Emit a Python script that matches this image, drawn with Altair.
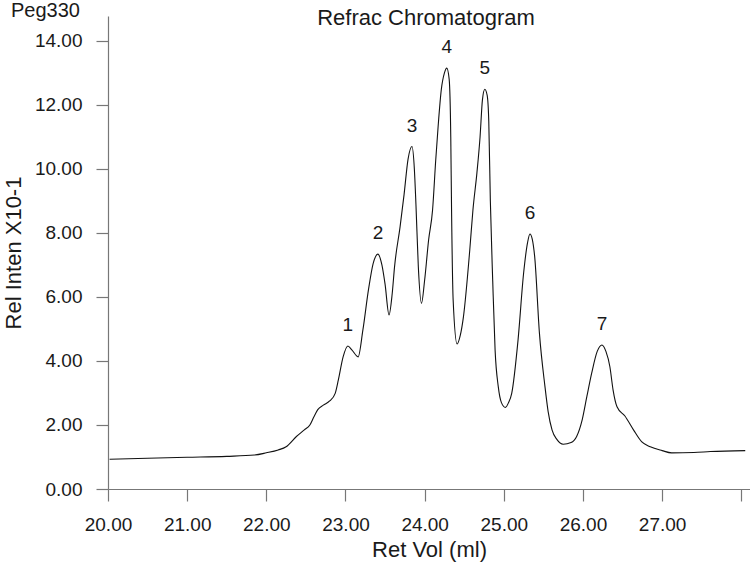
import altair as alt
import pandas as pd

# Refractive-index trace: retention volume (ml) and relative intensity (x10^-1)
ret_vol = [20.02, 20.5, 21.0, 21.5, 21.85, 22.0, 22.15, 22.25, 22.38, 22.48,
           22.55, 22.60, 22.65, 22.72, 22.80, 22.87, 22.91, 22.97, 23.03, 23.08,
           23.16, 23.22, 23.29, 23.35, 23.41, 23.46, 23.50, 23.55, 23.59, 23.62,
           23.69, 23.74, 23.79, 23.84, 23.87, 23.89, 23.92, 23.96, 24.00, 24.05,
           24.10, 24.14, 24.17, 24.21, 24.25, 24.28, 24.31, 24.33, 24.34, 24.36,
           24.41, 24.45, 24.49, 24.57, 24.61, 24.66, 24.70, 24.73, 24.76, 24.79,
           24.81, 24.83, 24.86, 24.89, 24.93, 24.97, 25.02, 25.06, 25.10, 25.18,
           25.25, 25.30, 25.33, 25.36, 25.39, 25.45, 25.52, 25.56, 25.61, 25.67,
           25.75, 25.85, 25.92, 25.99, 26.05, 26.11, 26.18, 26.24, 26.29, 26.34,
           26.38, 26.43, 26.53, 26.64, 26.74, 26.85, 27.00, 27.12, 27.40, 27.61,
           28.05]
rel_inten = [0.93, 0.96, 0.99, 1.02, 1.06, 1.13, 1.22, 1.32, 1.64, 1.85,
             2.00, 2.25, 2.48, 2.62, 2.75, 2.99, 3.41, 4.13, 4.47, 4.35,
             4.13, 4.97, 6.22, 7.05, 7.34, 7.00, 6.40, 5.44, 6.10, 6.95,
             8.20, 9.20, 10.30, 10.70, 10.00, 8.90, 6.95, 5.80, 6.53, 7.78,
             8.72, 10.28, 11.32, 12.47, 13.00, 13.15, 12.80, 11.00, 8.72, 5.91,
             4.53, 4.80, 5.38, 7.47, 8.72, 9.87, 11.00, 12.16, 12.49, 12.30,
             11.50, 9.00, 6.50, 4.34, 3.20, 2.70, 2.55, 2.70, 2.99, 4.66,
             6.74, 7.70, 7.97, 7.80, 7.26, 4.87, 3.20, 2.42, 1.84, 1.55,
             1.40, 1.45, 1.64, 2.16, 2.90, 3.62, 4.30, 4.50, 4.30, 3.82,
             3.10, 2.57, 2.28, 1.84, 1.48, 1.32, 1.20, 1.13, 1.14, 1.17,
             1.20]

# Peak numbers and the index of each peak apex in the trace
peak_names = ["1", "2", "3", "4", "5", "6", "7"]
peak_index = [18, 24, 33, 45, 58, 72, 87]

x_ticks = [20, 21, 22, 23, 24, 25, 26, 27, 28]
y_ticks = [0, 2, 4, 6, 8, 10, 12, 14]

FONT = "Liberation Sans"

trace = pd.DataFrame({"vol": ret_vol, "inten": rel_inten})
peaks = pd.DataFrame({
    "name": peak_names,
    "vol": [ret_vol[i] for i in peak_index],
    "inten": [rel_inten[i] for i in peak_index],
})

x_scale = alt.Scale(domain=[20, 28.11], nice=False, zero=False)
y_scale = alt.Scale(domain=[0, 14.78], nice=False)

axis_common = dict(
    domainColor="#777777", domainWidth=1.2,
    tickColor="#777777", tickWidth=1.2, tickSize=12,
    labelFont=FONT, labelFontSize=19, labelColor="#1a1a1a",
    titleFont=FONT, titleFontSize=22, titleFontWeight="normal", titleColor="#1a1a1a",
    grid=False,
)

line = alt.Chart(trace).mark_line(
    color="#111111", strokeWidth=1.1, interpolate="monotone"
).encode(
    x=alt.X("vol:Q", scale=x_scale,
            axis=alt.Axis(title="Ret Vol (ml)", values=x_ticks,
                          labelExpr="datum.value >= 28 ? '' : format(datum.value, '.2f')",
                          labelPadding=14, titlePadding=5, labelFlush=False,
                          **axis_common)),
    y=alt.Y("inten:Q", scale=y_scale,
            axis=alt.Axis(title="Rel Inten X10-1", values=y_ticks, format=".2f",
                          labelPadding=14, titlePadding=9,
                          **axis_common)),
)

labels = alt.Chart(peaks).mark_text(
    font=FONT, fontSize=19, color="#1a1a1a", dy=-21, baseline="middle"
).encode(x="vol:Q", y="inten:Q", text="name:N")

heading = alt.Chart(pd.DataFrame({"t": ["Refrac Chromatogram"]})).mark_text(
    font=FONT, fontSize=22, color="#1a1a1a", baseline="middle", align="center"
).encode(x=alt.value(318), y=alt.value(2), text="t:N")

sample = alt.Chart(pd.DataFrame({"t": ["Peg330"]})).mark_text(
    font=FONT, fontSize=20, color="#1a1a1a", baseline="middle", align="left"
).encode(x=alt.value(-97), y=alt.value(-5), text="t:N")

chart = alt.layer(line, labels, heading, sample).properties(
    width=642, height=473,
    autosize=alt.AutoSizeParams(type="none"),
    padding={"left": 108, "top": 16, "right": 0, "bottom": 78},
    background="white",
).configure_view(stroke=None)

chart.save("out.html", embed_options={"renderer": "svg", "actions": False})
